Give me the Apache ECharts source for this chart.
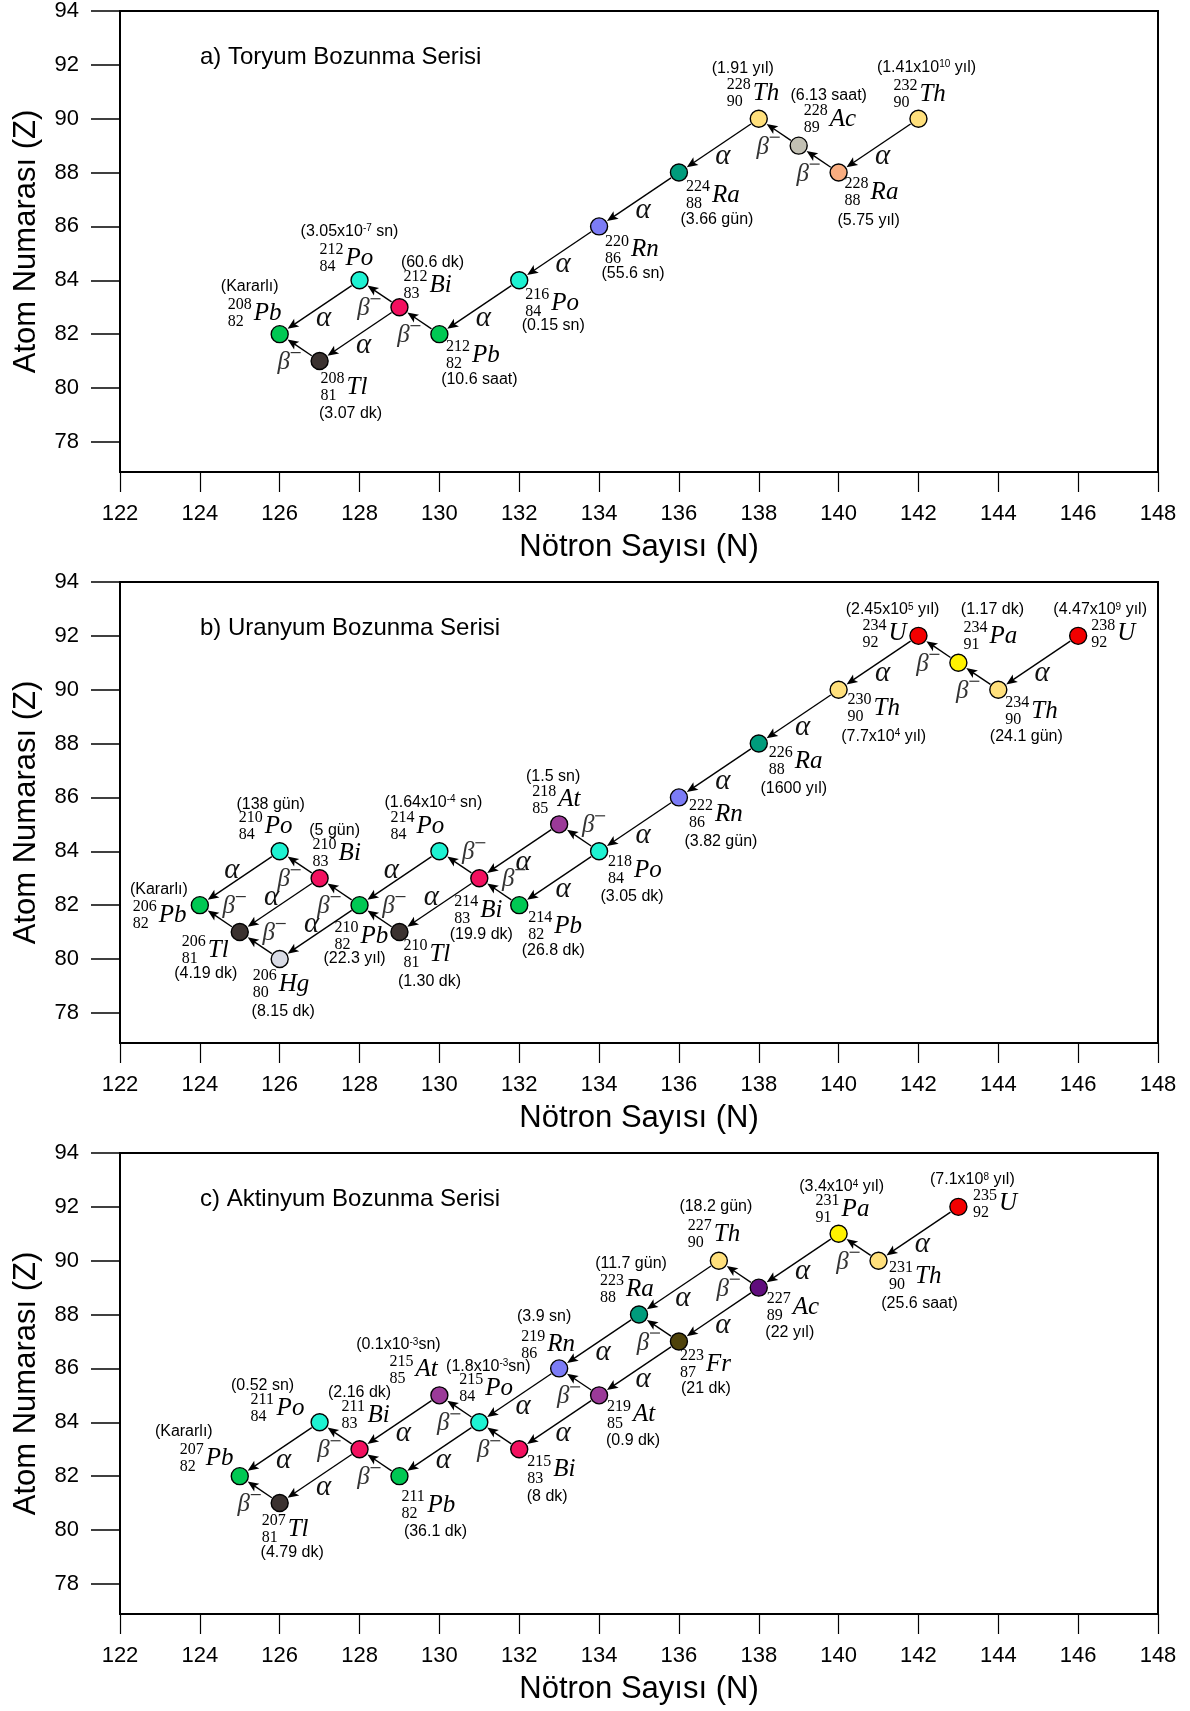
<!DOCTYPE html>
<html>
<head>
<meta charset="utf-8">
<title>Bozunma Serileri</title>
<script src="https://cdn.jsdelivr.net/npm/echarts@6/dist/echarts.min.js"></script>
<style>html,body{margin:0;padding:0;background:#fff;}</style>
</head>
<body>
<div id="main" style="width:1190px;height:1711px;"></div>
<script>
// a) Toryum bozunma serisi
var thSymbol = ['Th','Ra','Ac','Th','Ra','Rn','Po','Pb','Bi','Po','Tl','Pb'];
var thMass = [232,228,228,228,224,220,216,212,212,212,208,208];
var thZ = [90,88,89,90,88,86,84,82,83,84,81,82];
var thHalf = ['1.41x10^10 yıl','5.75 yıl','6.13 saat','1.91 yıl','3.66 gün','55.6 sn','0.15 sn',
              '10.6 saat','60.6 dk','3.05x10^-7 sn','3.07 dk','Kararlı'];
var thDecay = [[0,1,'α'],[1,2,'β'],[2,3,'β'],[3,4,'α'],[4,5,'α'],[5,6,'α'],[6,7,'α'],
               [7,8,'β'],[8,9,'β'],[8,10,'α'],[9,11,'α'],[10,11,'β']];

// b) Uranyum bozunma serisi
var uSymbol = ['U','Th','Pa','U','Th','Ra','Rn','Po','At','Pb','Bi','Po','Tl','Pb','Bi','Po','Hg','Tl','Pb'];
var uMass = [238,234,234,234,230,226,222,218,218,214,214,214,210,210,210,210,206,206,206];
var uZ = [92,90,91,92,90,88,86,84,85,82,83,84,81,82,83,84,80,81,82];
var uHalf = ['4.47x10^9 yıl','24.1 gün','1.17 dk','2.45x10^5 yıl','7.7x10^4 yıl','1600 yıl','3.82 gün',
             '3.05 dk','1.5 sn','26.8 dk','19.9 dk','1.64x10^-4 sn','1.30 dk','22.3 yıl','5 gün',
             '138 gün','8.15 dk','4.19 dk','Kararlı'];
var uDecay = [[0,1,'α'],[1,2,'β'],[2,3,'β'],[3,4,'α'],[4,5,'α'],[5,6,'α'],[6,7,'α'],[7,8,'β'],
              [7,9,'α'],[8,10,'α'],[9,10,'β'],[10,11,'β'],[10,12,'α'],[11,13,'α'],[12,13,'β'],
              [13,14,'β'],[13,16,'α'],[14,15,'β'],[14,17,'α'],[15,18,'α'],[16,17,'β'],[17,18,'β']];

// c) Aktinyum bozunma serisi
var acSymbol = ['U','Th','Pa','Ac','Th','Fr','Ra','At','Rn','Bi','Po','At','Pb','Bi','Po','Tl','Pb'];
var acMass = [235,231,231,227,227,223,223,219,219,215,215,215,211,211,211,207,207];
var acZ = [92,90,91,89,90,87,88,85,86,83,84,85,82,83,84,81,82];
var acHalf = ['7.1x10^8 yıl','25.6 saat','3.4x10^4 yıl','22 yıl','18.2 gün','21 dk','11.7 gün',
              '0.9 dk','3.9 sn','8 dk','1.8x10^-3sn','0.1x10^-3sn','36.1 dk','2.16 dk','0.52 sn',
              '4.79 dk','Kararlı'];
var acDecay = [[0,1,'α'],[1,2,'β'],[2,3,'α'],[3,4,'β'],[3,5,'α'],[4,6,'α'],[5,6,'β'],[5,7,'α'],
               [6,8,'α'],[7,8,'β'],[7,9,'α'],[8,10,'α'],[9,10,'β'],[10,11,'β'],[10,12,'α'],
               [11,13,'α'],[12,13,'β'],[13,14,'β'],[13,15,'α'],[14,16,'α'],[15,16,'β']];

var zTicks = [78,80,82,84,86,88,90,92,94];

// ---- layout / styles ----
// label offsets in px from the node: [nuclide dx, nuclide dy, half-life dx, half-life dy]
var thLabel = [[-25,-24,8,-51],[6,20,30,48],[5,-26,30,-50],[-32,-25,-16,-50],[7,23,38,47],
               [6,23.5,34,47],[6,23,34,45],[6.5,21,40,45],[4,-22,33,-45],[-40,-22,-10,-49],
               [1,26,31,53],[-52,-21,-30,-48]];
var uLabel = [[13,-2,22,-26],[7,22,28,47],[5,-26,34,-53],[-56,-2,-26,-26],[9,19,45,47],
              [10,18,35,45],[10,17,42,44],[9,19,33,45],[-27,-24.5,-6,-48],[9,21,34,45],
              [-25,32,2,56],[-49,-25,-6,-49],[4,22,30,50],[-25,31,-5,53],[-7,-25,15,-48],
              [-41,-25,-9,-47],[-27,25,3.5,52.5],[-58,18,-34,42],[-67,10,-41,-16]];
var acLabel = [[14.5,-3,14,-27],[10.5,16,41,43],[-23,-24,3,-47],[8,20,31,45],[-31,-26,-3,-54],
               [1,22.5,27,47.5],[-39,-25.6,-8,-51],[8,19.5,34,45.5],[-38,-23.5,-15,-52],
               [8,20.7,28,47],[-20,-34,9,-56],[-50,-25.5,-41,-50.5],[2,29,36,55],[-18,-34,0,-57],
               [-69,-14,-57,-37],[-18,26,12.5,50],[-60,-18,-56,-45]];
// which side of the arrow the α / β label sits (1 = below the line, -1 = above)
var thSide = thDecay.map(function () { return 1; });
var uSide = [1,1,1,1,1,1,1,-1,1,1,-1,-1,-1,-1,-1,1,-1,1,-1,-1,-1,-1];
var acSide = acDecay.map(function () { return 1; });

var elementColor = {Pb:'#00C853', Po:'#1EF2D2', Bi:'#F2105F', Tl:'#3B3230', Rn:'#7C7CF6',
                    Ra:'#009C7C', Th:'#FFE07C', U:'#F20000', Pa:'#FFF200', At:'#9B3A98',
                    Hg:'#D9DBE5', Fr:'#4E420A', Ac:'#C2C0B3'};
var nuclideColor = {'228Ra':'#F9AD80', '227Ac':'#600D7D'};

var panels = [
  {title:'a) Toryum Bozunma Serisi', sym:thSymbol, mass:thMass, z:thZ, half:thHalf, decay:thDecay, side:thSide, label:thLabel},
  {title:'b) Uranyum Bozunma Serisi', sym:uSymbol, mass:uMass, z:uZ, half:uHalf, decay:uDecay, side:uSide, label:uLabel},
  {title:'c) Aktinyum Bozunma Serisi', sym:acSymbol, mass:acMass, z:acZ, half:acHalf, decay:acDecay, side:acSide, label:acLabel}
];

var SANS = '"Liberation Sans", Arial, sans-serif';
var SERIF = '"Liberation Serif", "Times New Roman", serif';
var PANEL_STEP = 571;

// α / β label offsets by side
var modeOffset = {
  a: {'1':[4,11], '-1':[-8,-8]},
  b: {'1':[-11,13], '-1':[14,-14]}
};

function halfText(s) {
  return '(' + s.replace(/\^(-?\d+)/, function (m, e) { return '{s|' + e + '}'; }) + ')';
}

var myChart = echarts.init(document.getElementById('main'));

var grids = [], xAxes = [], yAxes = [], titles = [], series = [];

panels.forEach(function (p, k) {
  var top = 11 + PANEL_STEP * k;
  var nN = p.mass.map(function (m, i) { return m - p.z[i]; });

  titles.push({
    text: p.title, left: 200, top: top + 34, padding: 0,
    textStyle: {fontFamily: SANS, fontSize: 24, fontWeight: 'normal', color: '#000'}
  });
  grids.push({left: 120, width: 1038, top: top, height: 461, show: true,
              borderColor: '#000', borderWidth: 2, backgroundColor: '#fff'});
  xAxes.push({
    type: 'value', gridIndex: k, min: 122, max: 148, interval: 2,
    name: 'Nötron Sayısı (N)', nameLocation: 'middle', nameGap: 60,
    nameTextStyle: {fontFamily: SANS, fontSize: 31, color: '#000'},
    axisLine: {show: true, onZero: false, lineStyle: {color: '#000', width: 2}},
    axisTick: {show: true, length: 20, lineStyle: {color: '#000', width: 1.2}},
    axisLabel: {fontFamily: SANS, fontSize: 22, color: '#000', margin: 31, showMaxLabel: true, showMinLabel: true},
    splitLine: {show: false}
  });
  yAxes.push({
    type: 'value', gridIndex: k, min: 76.88, max: 94,
    name: 'Atom Numarası (Z)', nameLocation: 'middle', nameGap: 78,
    nameTextStyle: {fontFamily: SANS, fontSize: 31, color: '#000'},
    axisLine: {show: true, onZero: false, lineStyle: {color: '#000', width: 2}},
    axisTick: {show: true, length: 29, customValues: zTicks, lineStyle: {color: '#000', width: 1.5}},
    axisLabel: {fontFamily: SANS, fontSize: 22, color: '#000', margin: 41, customValues: zTicks},
    splitLine: {show: false}
  });

  // decay arrows with α / β labels
  series.push({
    type: 'custom', xAxisIndex: k, yAxisIndex: k, z: 2, silent: true,
    data: p.decay.map(function (d, j) {
      return [nN[d[0]], p.z[d[0]], nN[d[1]], p.z[d[1]], d[2] === 'α' ? 0 : 1, p.side[j]];
    }),
    renderItem: function (params, api) {
      var p1 = api.coord([api.value(0), api.value(1)]);
      var p2 = api.coord([api.value(2), api.value(3)]);
      var dx = p2[0] - p1[0], dy = p2[1] - p1[1];
      var L = Math.sqrt(dx * dx + dy * dy);
      var ux = dx / L, uy = dy / L, nx = -uy, ny = ux;
      var r = 9.5, hl = 11, hw = 4.6;
      var sx = p1[0] + ux * r, sy = p1[1] + uy * r;
      var tx = p2[0] - ux * r, ty = p2[1] - uy * r;
      var bx = tx - ux * hl, by = ty - uy * hl;
      var isAlpha = api.value(4) === 0;
      var off = (isAlpha ? modeOffset.a : modeOffset.b)[String(api.value(5))];
      var mx = (p1[0] + p2[0]) / 2 + off[0], my = (p1[1] + p2[1]) / 2 + off[1];
      var kids = [
        {type: 'line', shape: {x1: sx, y1: sy, x2: bx + ux * 3, y2: by + uy * 3},
         style: {stroke: '#000', lineWidth: 1.4}},
        {type: 'polygon',
         shape: {points: [[tx, ty], [bx + nx * hw, by + ny * hw], [bx + ux * 2.5, by + uy * 2.5], [bx - nx * hw, by - ny * hw]]},
         style: {fill: '#000'}}
      ];
      if (isAlpha) {
        kids.push({type: 'text', x: mx, y: my,
          style: {text: 'α', font: 'italic 29px ' + SERIF, fill: '#111', align: 'center', verticalAlign: 'middle'}});
      } else {
        kids.push({type: 'text', x: mx - 5, y: my + 2,
          style: {text: 'β', font: 'italic 25px ' + SERIF, fill: '#333', align: 'center', verticalAlign: 'middle'}});
        kids.push({type: 'line', shape: {x1: mx + 2, y1: my - 8, x2: mx + 12, y2: my - 8},
          style: {stroke: '#333', lineWidth: 1.2}});
      }
      return {type: 'group', children: kids};
    }
  });

  // nuclides
  series.push({
    type: 'scatter', xAxisIndex: k, yAxisIndex: k, z: 3, silent: true,
    symbol: 'circle', symbolSize: 17,
    data: p.sym.map(function (s, i) {
      return {
        value: [nN[i], p.z[i]],
        itemStyle: {color: nuclideColor[p.mass[i] + s] || elementColor[s]}
      };
    }),
    itemStyle: {borderColor: '#000', borderWidth: 1.4, opacity: 1}
  });

  // nuclide notation and half-life
  series.push({
    type: 'custom', xAxisIndex: k, yAxisIndex: k, z: 4, silent: true,
    data: p.sym.map(function (s, i) { return [nN[i], p.z[i], i]; }),
    renderItem: function (params, api) {
      var i = api.value(2);
      var c = api.coord([api.value(0), api.value(1)]);
      var lay = p.label[i];
      var ax = c[0] + lay[0], ay = c[1] + lay[1];
      return {
        type: 'group',
        children: [
          {type: 'text', x: ax, y: ay - 8.5,
           style: {text: String(p.mass[i]), font: '16px ' + SERIF, fill: '#000', align: 'left', verticalAlign: 'middle'}},
          {type: 'text', x: ax, y: ay + 8.5,
           style: {text: String(p.z[i]), font: '16px ' + SERIF, fill: '#000', align: 'left', verticalAlign: 'middle'}},
          {type: 'text', x: ax + 26, y: ay,
           style: {text: p.sym[i], font: 'italic 25px ' + SERIF, fill: '#000', align: 'left', verticalAlign: 'middle'}},
          {type: 'text', x: c[0] + lay[2], y: c[1] + lay[3],
           style: {
             text: halfText(p.half[i]), fontFamily: SANS, fontSize: 16, fill: '#000',
             align: 'center', verticalAlign: 'middle',
             rich: {s: {fontFamily: SANS, fontSize: 10, fill: '#000', verticalAlign: 'top'}}
           }}
        ]
      };
    }
  });
});

var option = {
  backgroundColor: '#fff',
  animation: false,
  title: titles,
  grid: grids,
  xAxis: xAxes,
  yAxis: yAxes,
  series: series
};

myChart.setOption(option);
</script>
</body>
</html>
